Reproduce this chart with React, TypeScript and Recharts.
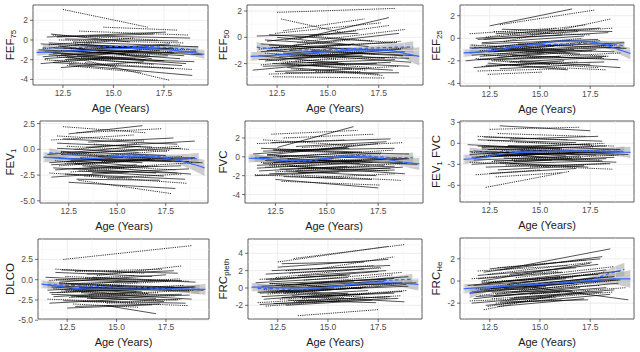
import React from 'react';
import { ComposedChart, Line, Area, XAxis, YAxis, CartesianGrid, ReferenceLine, ReferenceArea } from 'recharts';

type Seg = [number, number, number, number];

const XDOM: [number, number] = [11.02, 19.68];
const X_TICKS = [12.5, 15, 17.5];
const X_MINOR = [11.25, 13.75, 16.25, 18.75];
const SMOOTH_X = [11.2, 12, 13, 14, 15, 16, 17, 18, 19, 19.5];
const DASH_X = [11.5, 12.5, 13.5, 14.5, 15.5, 16.5, 17.5, 18.5, 19.2];

// ---------- FEF75 ----------
const solidFEF75: Seg[] = [
  [11.4,-0.4,16.8,-0.9],[11.8,-1.5,17.5,-2.1],[12.0,-2.3,18.0,-2.9],[11.3,-1.0,15.6,-1.4],
  [12.2,0.3,17.0,0.6],[12.5,-0.8,18.5,-1.6],[11.6,-1.9,16.2,-1.2],[12.8,-2.5,18.9,-3.6],
  [13.0,-0.2,19.2,-0.7],[12.1,-1.2,17.8,-0.4],[11.9,0.6,15.8,-0.2],[13.2,-1.6,18.6,-2.4],
  [12.4,-2.8,16.5,-2.2],[12.6,0.1,18.2,-0.1],[13.5,-1.0,19.4,-1.5],[11.4,-2.4,15.0,-1.8],
  [12.3,-0.6,16.9,-1.9],[13.8,0.4,18.8,0.2],[12.0,-1.4,17.3,-1.1],[14.0,-2.0,18.4,-2.6],
  [12.7,-1.8,19.0,-2.2],[11.7,0.3,17.6,0.8],
  [11.5,-1.7,16.4,-1.0],[12.0,-0.8,18.0,-1.3],[12.6,-2.0,17.7,-1.6],[13.0,-1.1,18.3,-1.9],
  [11.8,-0.3,15.9,-0.7],[12.4,-1.5,19.1,-1.2],[13.4,-0.5,18.0,-0.9],[11.6,-1.2,16.6,-2.0],
];
const dottedFEF75: Seg[] = [
  [12.5,3.1,16.7,1.3],[12.6,-1.6,17.8,-4.1],[11.8,-0.5,16.0,0.2],[12.2,-1.7,17.0,-2.5],
  [12.9,-0.9,18.3,-0.5],[11.6,-2.0,15.2,-2.7],[13.3,0.9,18.7,0.5],[12.4,-1.1,16.8,-1.6],
  [11.5,-0.9,14.8,-0.1],[13.6,-2.3,18.9,-3.0],[12.0,0.5,17.2,0.0],[14.2,-1.3,18.0,-0.8],
  [12.7,-2.6,16.4,-3.3],[13.1,-0.4,17.9,-1.2],[11.9,-1.3,15.6,-0.6],[12.3,0.0,18.5,-0.3],
  [13.4,-1.8,17.4,-1.4],[14.5,1.3,18.2,1.0],[12.1,-2.1,16.1,-1.9],[13.7,-0.7,19.0,-1.0],
];
const fitFEF75 = [-1.25,-1.2,-1.1,-1.0,-0.9,-0.85,-0.9,-1.05,-1.3,-1.45];
const seFEF75 = [0.35,0.25,0.15,0.12,0.12,0.12,0.15,0.2,0.35,0.45];
const dashFEF75 = [-0.8,-0.8,-0.75,-0.7,-0.65,-0.65,-0.75,-0.9,-1.05];
const dseFEF75 = [0.35,0.2,0.15,0.12,0.12,0.15,0.2,0.3,0.45];

// ---------- FEF50 ----------
const solidFEF50: Seg[] = [
  [11.5,0.1,16.5,0.3],[11.3,-2.5,15.5,-1.9],[12.0,-1.0,17.8,-1.6],[12.3,-2.0,18.2,-2.5],
  [11.7,-0.5,16.0,-0.9],[12.6,-1.5,18.8,-1.1],[13.0,-2.3,17.5,-2.8],[12.1,0.2,17.2,-0.3],
  [11.9,-1.8,16.8,-1.2],[13.3,-0.6,18.5,0.3],[12.4,-2.6,16.2,-2.4],[12.8,-1.2,19.1,-1.9],
  [13.6,-0.1,18.0,1.5],[11.6,-1.4,15.8,-2.0],[12.2,-0.8,18.4,-0.4],[14.0,-1.9,19.0,-2.2],
  [12.5,0.0,17.0,-0.7],[11.8,-2.2,17.4,-2.0],[13.1,-1.6,18.6,-0.9],[12.9,-2.7,18.5,-2.7],
  [12.0,-0.3,16.4,0.5],[14.2,-1.0,19.3,-1.4],
  [11.6,-1.7,16.7,-1.4],[12.1,-0.6,17.9,-1.0],[12.7,-2.0,18.3,-1.7],[13.1,-1.0,18.7,-1.4],
  [11.9,-0.2,16.1,-0.6],[12.4,-1.3,19.0,-1.6],[13.5,-2.2,18.1,-1.9],[11.7,-1.1,16.3,-0.5],
];
const dottedFEF50: Seg[] = [
  [12.5,1.9,18.3,2.2],[12.7,1.4,15.6,0.4],[13.5,-0.4,18.8,0.6],[12.3,-3.0,17.8,-3.1],
  [11.6,-0.9,16.1,-0.2],[12.0,-1.7,17.1,-2.3],[12.9,-0.2,18.0,0.9],[13.2,-2.4,17.7,-2.9],
  [11.9,-1.2,15.4,-1.6],[12.4,0.3,17.6,1.1],[13.8,-1.4,18.9,-0.8],[12.1,-2.8,16.6,-2.6],
  [12.6,-0.7,17.3,-1.3],[13.4,-1.8,18.4,-1.5],[11.7,-2.1,15.9,-1.5],[14.1,0.1,18.2,-0.4],
  [12.2,-1.0,18.6,-0.3],[13.0,-2.0,16.9,-2.5],[12.8,0.5,16.8,1.4],[14.4,-2.6,18.5,-2.2],
];
const fitFEF50 = [-1.45,-1.4,-1.3,-1.2,-1.1,-1.0,-0.95,-1.0,-1.3,-1.45];
const seFEF50 = [0.35,0.25,0.15,0.12,0.12,0.12,0.15,0.25,0.5,0.7];
const dashFEF50 = [-0.75,-0.9,-0.95,-0.95,-0.9,-0.85,-0.8,-0.75,-0.75];
const dseFEF50 = [0.4,0.2,0.15,0.12,0.12,0.15,0.2,0.3,0.45];

// ---------- FEF25 ----------
const solidFEF25: Seg[] = [
  [12.5,1.1,16.6,2.6],[11.3,-2.0,15.2,-1.3],[11.6,-0.9,16.5,-0.2],[12.0,-1.6,17.8,-1.0],
  [12.3,-2.4,18.2,-2.1],[11.8,0.0,16.9,0.6],[12.7,-1.2,18.6,-0.6],[13.0,-2.7,17.5,-2.3],
  [12.1,-0.4,17.2,0.2],[11.9,-1.9,16.0,-1.6],[13.3,-0.8,19.2,-0.4],[12.4,-2.2,16.4,-2.8],
  [12.8,0.4,18.0,0.9],[13.6,-1.5,18.9,-1.9],[11.5,-1.3,15.7,-0.7],[12.2,-0.1,18.4,0.5],
  [14.0,-2.0,19.0,-2.6],[12.6,-1.0,17.0,-1.4],[11.7,-2.6,16.2,-2.0],[13.1,0.8,18.6,0.6],
  [13.9,-0.5,19.3,-0.9],[12.9,-1.7,17.6,-1.1],
  [11.6,-1.5,16.7,-1.0],[12.1,-0.5,17.9,-0.1],[12.7,-1.9,18.3,-1.6],[13.1,-0.9,18.7,-1.2],
  [11.9,-0.1,16.1,0.3],[12.4,-1.2,19.0,-0.8],[13.5,-2.1,18.1,-1.7],[11.7,-0.8,16.3,-1.2],
];
const dottedFEF25: Seg[] = [
  [13.0,1.2,17.7,2.5],[12.4,-3.2,15.1,-3.0],[11.5,0.4,15.8,0.9],[12.0,-1.1,16.7,-0.6],
  [12.6,-2.0,17.9,-2.6],[13.2,-0.3,18.5,1.7],[11.8,-1.8,15.5,-2.3],[12.3,0.1,17.3,1.2],
  [13.5,-2.4,18.3,-2.8],[12.9,-1.4,18.8,-0.6],[11.6,-0.6,16.1,-1.0],[12.1,-2.5,16.9,-2.1],
  [14.1,-0.9,18.0,-0.2],[12.7,0.6,17.5,0.3],[13.7,-1.8,19.0,-1.3],[12.2,-1.5,18.2,-1.8],
  [13.4,0.3,18.6,0.9],[11.9,-2.9,16.3,-2.7],[14.3,-1.2,18.4,-1.6],[12.5,-0.8,17.1,0.0],
];
const fitFEF25 = [-1.3,-1.2,-1.0,-0.7,-0.45,-0.25,-0.25,-0.45,-1.05,-1.35];
const seFEF25 = [0.35,0.25,0.15,0.12,0.12,0.12,0.15,0.25,0.4,0.5];
const dashFEF25 = [-0.85,-0.85,-0.75,-0.6,-0.55,-0.5,-0.45,-0.55,-0.65];
const dseFEF25 = [0.35,0.2,0.15,0.12,0.12,0.15,0.2,0.3,0.4];

// ---------- FEV1 ----------
const solidFEV1: Seg[] = [
  [12.5,1.5,16.3,2.3],[12.5,-3.2,18.0,-3.8],[11.4,-0.5,16.2,0.3],[11.7,-1.8,17.0,-2.3],
  [12.0,-0.9,17.8,-1.2],[12.3,-2.4,18.5,-2.9],[11.9,0.6,16.8,0.2],[12.8,-1.4,18.9,-0.9],
  [13.0,-2.1,17.4,-2.6],[12.1,-0.2,17.5,-0.6],[11.6,-2.7,15.6,-2.2],[13.4,0.2,19.0,0.8],
  [12.6,-1.1,16.6,-1.7],[13.7,-2.3,18.7,-1.9],[11.5,-1.3,15.3,-0.8],[12.2,1.0,18.1,0.5],
  [14.0,-0.7,19.4,-1.3],[12.9,-2.9,17.2,-3.0],[12.4,-0.4,18.3,0.1],[13.2,-1.6,18.8,-2.4],
  [11.8,-2.0,16.0,-1.5],[13.5,0.7,17.9,1.1],
  [11.6,-1.5,16.7,-1.0],[12.1,-0.5,17.9,-0.9],[12.7,-1.9,18.3,-1.6],[13.1,-0.9,18.7,-1.2],
  [11.9,0.1,16.1,-0.3],[12.4,-1.2,19.0,-0.8],[13.5,-2.1,18.1,-2.3],[11.7,-0.8,16.3,-1.3],
];
const dottedFEV1: Seg[] = [
  [12.2,2.2,16.5,1.6],[13.0,-3.0,17.8,-4.3],[11.6,0.9,15.9,1.4],[12.0,-1.6,16.9,-1.0],
  [12.7,-0.5,18.2,0.3],[13.3,-2.6,18.6,-3.3],[11.8,-1.1,15.4,-1.8],[12.4,0.3,17.6,-0.2],
  [13.6,-1.9,18.9,-1.3],[12.9,1.6,17.3,2.0],[11.5,-2.3,15.8,-2.8],[12.1,-0.3,16.7,-0.9],
  [14.2,-1.2,18.4,-0.7],[12.6,-2.2,17.1,-1.6],[13.8,0.5,18.7,0.0],[12.3,-1.4,18.0,-2.0],
  [13.1,-0.8,17.7,-0.1],[11.9,1.3,16.4,0.8],[14.5,-2.8,18.3,-2.4],[12.8,0.0,16.1,0.6],
];
const fitFEV1 = [-0.75,-0.85,-0.95,-0.85,-0.7,-0.65,-0.75,-1.0,-1.5,-1.8];
const seFEV1 = [0.5,0.35,0.2,0.17,0.17,0.17,0.2,0.35,0.6,0.8];
const dashFEV1 = [-0.35,-0.45,-0.6,-0.6,-0.55,-0.6,-0.75,-0.85,-0.9];
const dseFEV1 = [0.45,0.25,0.2,0.17,0.17,0.2,0.25,0.4,0.55];

// ---------- FVC ----------
const solidFVC: Seg[] = [
  [12.6,1.0,16.3,3.2],[12.5,-2.4,17.5,-3.3],[11.4,0.3,16.0,1.0],[11.6,-1.2,17.2,-0.6],
  [12.0,-0.4,17.8,-0.9],[12.2,-1.8,18.3,-1.4],[11.8,0.9,16.7,0.5],[12.8,-0.8,18.9,-0.2],
  [13.0,-1.5,17.4,-2.0],[12.1,0.2,17.5,1.4],[11.5,-2.0,15.6,-1.6],[13.3,0.6,19.0,0.3],
  [12.7,-0.1,16.6,-0.7],[13.6,-1.7,18.7,-1.1],[11.9,-0.7,15.3,-0.2],[12.3,1.5,18.1,1.9],
  [14.0,-0.3,19.4,-0.8],[12.9,-2.1,17.2,-2.4],[12.4,0.7,18.3,0.9],[13.2,-1.0,18.8,-1.8],
  [11.7,-1.5,16.0,-1.0],[13.5,1.1,17.9,1.6],
  [11.6,-0.9,16.7,-0.4],[12.1,0.2,17.9,-0.2],[12.7,-1.3,18.3,-1.0],[13.1,-0.3,18.7,-0.6],
  [11.9,0.6,16.1,0.9],[12.4,-0.6,19.0,-0.2],[13.5,-1.5,18.1,-1.2],[11.7,-0.1,16.3,0.4],
];
const dottedFVC: Seg[] = [
  [12.3,2.4,16.5,2.8],[12.8,-2.6,17.6,-3.0],[11.6,1.4,15.9,1.8],[12.0,-1.1,16.9,-0.5],
  [12.6,0.0,18.2,0.7],[13.3,-1.9,18.6,-2.5],[11.8,-0.6,15.4,-1.3],[12.4,0.8,17.6,0.3],
  [13.6,-1.3,18.9,-0.7],[12.9,2.0,17.3,2.4],[11.5,-1.9,15.8,-2.3],[12.1,0.2,16.7,-0.4],
  [14.2,-0.6,18.4,-0.1],[12.5,-1.6,17.1,-1.0],[13.8,1.0,18.7,1.5],[12.2,-0.9,18.0,-1.5],
  [13.1,-0.2,17.7,0.4],[11.9,1.8,16.4,1.2],[14.5,-2.2,18.3,-1.8],[12.7,0.5,16.1,1.1],
];
const fitFVC = [-0.15,-0.2,-0.35,-0.35,-0.15,0.05,0.0,-0.3,-0.65,-0.75];
const seFVC = [0.45,0.3,0.2,0.17,0.17,0.17,0.2,0.3,0.5,0.65];
const dashFVC = [-0.1,-0.35,-0.45,-0.35,0.0,0.15,0.0,-0.1,-0.1];
const dseFVC = [0.45,0.25,0.2,0.17,0.17,0.2,0.25,0.4,0.55];

// ---------- FEV1/FVC ----------
const solidRatio: Seg[] = [
  [13.0,2.5,17.5,1.8],[11.4,-0.2,16.0,-0.8],[11.7,-2.4,17.0,-1.8],[12.0,-1.2,17.8,-1.7],
  [12.3,-3.4,18.5,-2.9],[11.9,0.5,16.8,0.1],[12.8,-1.8,18.9,-1.2],[13.0,-2.8,17.4,-3.4],
  [12.1,-0.6,17.5,-0.1],[11.6,-3.0,15.6,-2.4],[13.4,-0.3,19.0,-0.9],[12.6,-1.5,16.6,-2.2],
  [13.7,-2.6,18.7,-2.0],[11.5,-1.6,15.3,-1.0],[12.2,0.9,18.1,0.3],[14.0,-1.0,19.4,-1.6],
  [12.9,-3.8,17.2,-3.2],[12.4,-0.9,18.3,-0.4],[13.2,-2.1,18.8,-2.7],[11.8,-2.0,16.0,-1.4],
  [13.5,0.6,17.9,1.0],[12.5,-4.3,16.8,-3.6],
  [11.6,-2.0,16.7,-1.4],[12.1,-0.8,17.9,-1.2],[12.7,-2.5,18.3,-2.2],[13.1,-1.3,18.7,-1.7],
  [11.9,-0.4,16.1,-0.7],[12.4,-1.7,19.0,-1.2],[13.5,-2.9,18.1,-2.5],[11.7,-1.1,16.3,-1.8],
];
const dottedRatio: Seg[] = [
  [12.5,2.0,17.0,2.3],[12.3,-6.3,16.5,-4.0],[11.8,-4.5,15.0,-3.8],[12.0,-1.9,16.9,-1.3],
  [12.7,-0.7,18.2,0.0],[13.3,-3.1,18.6,-3.7],[11.6,-1.3,15.4,-2.0],[12.4,0.4,17.6,-0.3],
  [13.6,-2.3,18.9,-1.7],[12.9,1.4,17.3,1.0],[11.5,-2.7,15.8,-3.2],[12.1,-0.4,16.7,-1.0],
  [14.2,-1.5,18.4,-0.9],[12.6,-2.6,17.1,-2.0],[13.8,0.2,18.7,-0.4],[12.2,-1.7,18.0,-2.4],
  [13.1,-1.0,17.7,-0.5],[11.9,1.0,16.4,0.5],[14.5,-3.4,18.3,-2.9],[12.8,-4.8,16.1,-4.2],
];
const fitRatio = [-2.3,-2.1,-1.6,-1.3,-1.2,-1.15,-1.15,-1.2,-1.25,-1.3];
const seRatio = [0.7,0.45,0.3,0.25,0.25,0.25,0.3,0.4,0.65,0.8];
const dashRatio = [-1.2,-1.2,-1.15,-1.1,-1.1,-1.05,-1.05,-1.1,-1.15];
const dseRatio = [0.6,0.35,0.28,0.25,0.25,0.28,0.35,0.5,0.7];

// ---------- DLCO ----------
const solidDLCO: Seg[] = [
  [14.5,-3.2,17.0,-4.2],[11.4,0.3,16.0,-0.2],[11.7,-1.8,17.0,-2.3],[12.0,-0.8,17.8,-1.2],
  [12.3,-2.6,18.5,-2.9],[11.9,0.9,16.8,0.4],[12.8,-1.4,18.9,-0.9],[13.0,-2.1,17.4,-2.7],
  [12.1,-0.3,17.5,0.6],[11.6,-2.9,15.6,-2.4],[13.4,0.2,19.0,-0.3],[12.6,-1.1,16.6,-1.7],
  [13.7,-2.3,18.7,-1.9],[11.5,-1.3,15.3,-0.8],[12.2,1.2,18.1,0.8],[14.0,-0.7,19.4,-1.3],
  [12.9,-3.3,17.2,-3.0],[12.4,-0.5,18.3,-0.1],[13.2,-1.6,18.8,-2.4],[11.8,-2.1,16.0,-1.5],
  [13.5,0.7,17.9,1.1],[12.5,-3.5,16.8,-3.1],
  [11.6,-1.6,16.7,-1.2],[12.1,-0.5,17.9,-0.9],[12.7,-2.1,18.3,-1.8],[13.1,-1.0,18.7,-1.4],
  [11.9,0.0,16.1,-0.3],[12.4,-1.3,19.0,-0.9],[13.5,-2.3,18.1,-2.5],[11.7,-0.9,16.3,-1.5],
];
const dottedDLCO: Seg[] = [
  [12.3,2.5,18.8,4.2],[14.0,0.5,18.3,1.7],[11.6,-0.1,15.9,0.5],[12.0,-1.6,16.9,-1.0],
  [12.7,-0.6,18.2,0.1],[13.3,-2.7,18.6,-3.2],[11.8,-1.1,15.4,-1.8],[12.4,0.4,17.6,-0.1],
  [13.6,-1.9,18.9,-1.3],[12.9,1.0,17.3,1.3],[11.5,-2.4,15.8,-2.8],[12.1,-0.4,16.7,-0.9],
  [14.2,-1.2,18.4,-0.7],[12.6,-2.2,17.1,-1.6],[13.8,0.3,18.7,-0.2],[12.2,-1.4,18.0,-2.0],
  [13.1,-0.8,17.7,-0.2],[11.9,1.3,16.4,0.8],[14.5,-2.9,18.3,-2.4],[12.8,-3.0,16.1,-3.4],
];
const fitDLCO = [-0.55,-0.8,-1.1,-1.2,-1.2,-1.15,-1.15,-1.15,-1.2,-1.2];
const seDLCO = [0.5,0.35,0.25,0.2,0.2,0.2,0.25,0.35,0.55,0.7];
const dashDLCO = [-0.6,-0.7,-0.8,-0.9,-0.95,-1.0,-1.1,-1.15,-1.2];
const dseDLCO = [0.5,0.3,0.22,0.2,0.2,0.22,0.3,0.45,0.6];

// ---------- FRCpleth ----------
const solidPleth: Seg[] = [
  [12.5,2.4,18.0,3.3],[11.4,0.6,16.0,1.2],[11.7,-1.0,17.0,-0.3],[12.0,0.0,17.8,0.8],
  [12.3,-1.8,18.5,-1.2],[11.9,1.6,16.8,2.2],[12.8,-0.6,18.9,0.4],[13.0,-1.4,17.4,-1.7],
  [12.1,0.9,17.5,1.9],[11.6,-1.9,15.6,-1.5],[13.4,0.4,19.0,1.3],[12.6,-0.3,16.6,-0.8],
  [13.7,-1.2,18.7,-0.4],[11.5,-0.5,15.3,0.0],[12.2,2.0,18.1,2.6],[14.0,0.1,19.4,0.6],
  [12.9,-2.0,17.2,-1.4],[12.4,0.3,18.3,1.1],[13.2,-0.9,18.8,-1.6],[11.8,-1.3,16.0,-0.6],
  [13.5,1.4,17.9,2.0],[12.7,2.8,16.8,3.0],
  [11.6,-0.6,16.7,0.0],[12.1,0.5,17.9,1.0],[12.7,-1.1,18.3,-0.6],[13.1,0.0,18.7,0.6],
  [11.9,1.0,16.1,1.5],[12.4,-0.4,19.0,0.2],[13.5,-1.5,18.1,-1.0],[11.7,0.2,16.3,0.7],
];
const dottedPleth: Seg[] = [
  [12.5,3.0,18.0,4.8],[13.3,3.4,18.8,5.0],[13.5,-3.2,17.5,-2.5],[11.6,1.0,15.9,1.5],
  [12.0,-0.7,16.9,0.1],[12.7,0.2,18.2,1.5],[13.3,-1.6,18.6,-0.9],[11.8,-0.2,15.4,-0.9],
  [12.4,1.2,17.6,2.4],[13.6,-1.1,18.9,-0.3],[12.9,2.0,17.3,2.6],[11.5,-1.7,15.8,-1.1],
  [12.1,0.5,16.7,0.0],[14.2,-0.4,18.4,0.5],[12.6,-1.3,17.1,-0.6],[13.8,0.9,18.7,1.8],
  [12.2,-0.5,18.0,-1.2],[13.1,1.7,17.7,2.3],[11.9,-2.1,16.4,-1.3],[14.5,2.2,18.3,3.6],
];
const fitPleth = [0.1,0.1,0.0,0.0,0.1,0.35,0.55,0.6,0.5,0.4];
const sePleth = [0.5,0.35,0.25,0.2,0.2,0.2,0.25,0.35,0.55,0.7];
const dashPleth = [-0.05,-0.1,-0.2,-0.05,0.2,0.5,0.8,0.95,1.0];
const dsePleth = [0.5,0.3,0.22,0.2,0.2,0.22,0.3,0.45,0.6];

// ---------- FRCHe ----------
const solidHe: Seg[] = [
  [13.0,1.0,18.5,2.9],[11.4,-0.4,16.0,0.4],[11.7,-1.6,17.0,-0.6],[12.0,-0.8,17.8,0.3],
  [12.3,-2.2,18.5,-1.2],[11.9,0.5,16.8,1.2],[12.8,-1.2,18.9,-0.2],[13.0,-1.9,17.4,-1.7],
  [12.1,0.0,17.5,1.6],[11.6,-2.0,15.6,-1.4],[13.4,-0.3,19.0,0.9],[12.6,-1.0,16.6,-0.9],
  [13.7,-1.5,18.7,-0.8],[11.5,-1.1,15.3,-0.5],[12.2,0.8,18.1,2.2],[14.0,-0.4,19.4,-1.7],
  [12.9,-2.3,17.2,-1.6],[12.4,-0.2,18.3,1.0],[13.2,-0.7,18.8,0.2],[11.8,-1.4,16.0,-1.0],
  [13.5,0.6,17.9,1.5],[12.5,1.1,18.0,2.0],
  [11.6,-1.0,16.7,-0.2],[12.1,-0.2,17.9,0.6],[12.7,-1.4,18.3,-0.6],[13.1,-0.5,18.7,0.4],
  [11.9,0.2,16.1,0.8],[12.4,-0.7,19.0,0.1],[13.5,-1.6,18.1,-1.0],[11.7,-0.4,16.3,0.2],
];
const dottedHe: Seg[] = [
  [12.2,-2.6,16.0,-1.2],[12.4,-2.3,17.5,-0.9],[11.6,0.2,15.9,0.9],[12.0,-1.3,16.9,-0.3],
  [12.7,-0.5,18.2,0.8],[13.3,-1.8,18.6,-1.0],[11.8,-0.7,15.4,-0.8],[12.4,0.6,17.6,1.7],
  [13.6,-1.0,18.9,0.1],[12.9,1.2,17.3,1.9],[11.5,-1.8,15.8,-1.5],[12.1,-0.1,16.7,0.3],
  [14.2,-0.6,18.4,0.4],[12.6,-1.6,17.1,-1.1],[13.8,0.3,18.7,1.3],[12.2,-0.9,18.0,-0.4],
  [13.1,0.0,17.7,0.6],[11.9,0.9,16.4,1.4],[14.5,-1.2,19.3,-0.6],[12.8,-2.0,16.1,-1.7],
];
const fitHe = [-0.7,-0.6,-0.5,-0.4,-0.3,-0.2,-0.05,0.1,0.2,0.2];
const seHe = [0.45,0.3,0.22,0.18,0.18,0.18,0.22,0.35,0.6,0.8];
const dashHe = [-1.1,-0.65,-0.4,-0.25,-0.2,-0.1,0.1,0.7,1.05];
const dseHe = [0.45,0.28,0.2,0.18,0.18,0.2,0.28,0.45,0.6];

interface PanelDef {
  main: string; sub: string; after?: string;
  yDom: [number, number]; yTicks: number[]; yMinor: number[]; dec: boolean;
  solid: Seg[]; dotted: Seg[]; fit: number[]; se: number[]; dash: number[]; dse: number[];
}

const PANELS: PanelDef[] = [
  { main: 'FEF', sub: '75', yDom: [-4.57, 3.55], yTicks: [-4, -2, 0, 2], yMinor: [-3, -1, 1, 3], dec: false,
    solid: solidFEF75, dotted: dottedFEF75, fit: fitFEF75, se: seFEF75, dash: dashFEF75, dse: dseFEF75 },
  { main: 'FEF', sub: '50', yDom: [-3.63, 2.46], yTicks: [-2, 0, 2], yMinor: [-3, -1, 1], dec: false,
    solid: solidFEF50, dotted: dottedFEF50, fit: fitFEF50, se: seFEF50, dash: dashFEF50, dse: dseFEF50 },
  { main: 'FEF', sub: '25', yDom: [-4.23, 2.95], yTicks: [-4, -2, 0, 2], yMinor: [-3, -1, 1], dec: false,
    solid: solidFEF25, dotted: dottedFEF25, fit: fitFEF25, se: seFEF25, dash: dashFEF25, dse: dseFEF25 },
  { main: 'FEV', sub: '1', yDom: [-5.21, 2.75], yTicks: [-5, -2.5, 0, 2.5], yMinor: [-3.75, -1.25, 1.25], dec: true,
    solid: solidFEV1, dotted: dottedFEV1, fit: fitFEV1, se: seFEV1, dash: dashFEV1, dse: dseFEV1 },
  { main: 'FVC', sub: '', yDom: [-4.9, 3.8], yTicks: [-4, -2, 0, 2], yMinor: [-3, -1, 1, 3], dec: false,
    solid: solidFVC, dotted: dottedFVC, fit: fitFVC, se: seFVC, dash: dashFVC, dse: dseFVC },
  { main: 'FEV', sub: '1', after: ' FVC', yDom: [-8.39, 3.19], yTicks: [-6, -3, 0, 3], yMinor: [-7.5, -4.5, -1.5, 1.5], dec: false,
    solid: solidRatio, dotted: dottedRatio, fit: fitRatio, se: seRatio, dash: dashRatio, dse: dseRatio },
  { main: 'DLCO', sub: '', yDom: [-4.85, 5.02], yTicks: [-5, -2.5, 0, 2.5], yMinor: [-3.75, -1.25, 1.25, 3.75], dec: true,
    solid: solidDLCO, dotted: dottedDLCO, fit: fitDLCO, se: seDLCO, dash: dashDLCO, dse: dseDLCO },
  { main: 'FRC', sub: 'pleth', yDom: [-3.58, 5.65], yTicks: [-2, 0, 2, 4], yMinor: [-3, -1, 1, 3, 5], dec: false,
    solid: solidPleth, dotted: dottedPleth, fit: fitPleth, se: sePleth, dash: dashPleth, dse: dsePleth },
  { main: 'FRC', sub: 'He', yDom: [-3.43, 3.88], yTicks: [-2, 0, 2], yMinor: [-3, -1, 1, 3], dec: false,
    solid: solidHe, dotted: dottedHe, fit: fitHe, se: seHe, dash: dashHe, dse: dseHe },
];

const LAYOUT = [
  { col: 0, l: 33, r: 208, t: 5, b: 85 },
  { col: 213, l: 247, r: 423, t: 5, b: 85 },
  { col: 426, l: 460, r: 634, t: 5, b: 86 },
  { col: 0, l: 40, r: 208, t: 121, b: 203 },
  { col: 213, l: 245, r: 423, t: 121, b: 203 },
  { col: 426, l: 460, r: 634, t: 121, b: 202 },
  { col: 0, l: 38, r: 209, t: 239, b: 319 },
  { col: 213, l: 248, r: 422, t: 239, b: 319 },
  { col: 426, l: 460, r: 634, t: 238, b: 319 },
];

const XH = 34;
const MT = 5;
const FONT = '"Liberation Sans", Arial, Helvetica, sans-serif';
const BLUE = '#3366FF';

function Panel({ p, lay }: { p: PanelDef; lay: typeof LAYOUT[number] }) {
  const YW = lay.l - lay.col;
  const W = lay.r - lay.col + 1;
  const ph = lay.b - lay.t;
  const H = ph + MT + XH;
  const cx = YW + (lay.r - lay.l) / 2;
  const cy = MT + ph / 2;
  const fitData = SMOOTH_X.map((x, i) => ({ x, y: p.fit[i], band: [p.fit[i] - p.se[i], p.fit[i] + p.se[i]] }));
  const dashData = DASH_X.map((x, i) => ({ x, y: p.dash[i], band: [p.dash[i] - p.dse[i], p.dash[i] + p.dse[i]] }));
  const fmt = (v: number) => (p.dec ? v.toFixed(1) : String(v));

  const yLabel = () => (
    <text x={10} y={cy} transform={`rotate(-90, 10, ${cy})`} textAnchor="middle" dominantBaseline="central"
      fontSize={11.5} fill="#1a1a1a" fontFamily={FONT}>
      {p.main}
      {p.sub ? <tspan fontSize={8} dy={3}>{p.sub}</tspan> : null}
      {p.after ? <tspan fontSize={11.5} dy={-3}>{p.after}</tspan> : null}
    </text>
  );
  const xLabel = () => (
    <text x={cx} y={MT + ph + 23} textAnchor="middle" dominantBaseline="central" fontSize={11} fill="#1a1a1a" fontFamily={FONT}>
      Age (Years)
    </text>
  );

  return (
    <div style={{ position: 'absolute', left: lay.col, top: lay.t - MT }}>
      <ComposedChart width={W} height={H} margin={{ top: MT, right: 1, left: 0, bottom: 0 }}>
        <CartesianGrid stroke="#EBEBEB" strokeWidth={0.9} />
        {X_MINOR.map((v) => (
          <ReferenceLine key={'xm' + v} x={v} stroke="#F2F2F2" strokeWidth={0.5} />
        ))}
        {p.yMinor.map((v) => (
          <ReferenceLine key={'ym' + v} y={v} stroke="#F2F2F2" strokeWidth={0.5} />
        ))}
        <XAxis type="number" dataKey="x" domain={XDOM} ticks={X_TICKS} allowDataOverflow interval={0}
          tickFormatter={(v: number) => v.toFixed(1)} tick={{ fontSize: 8.5, fill: '#4D4D4D', fontFamily: FONT }}
          tickLine={{ stroke: '#333', strokeWidth: 0.7 }} tickSize={3} tickMargin={2} axisLine={false} height={XH}
          label={{ content: xLabel }} />
        <YAxis type="number" domain={p.yDom} ticks={p.yTicks} allowDataOverflow interval={0} width={YW}
          tickFormatter={fmt} tick={{ fontSize: 8.5, fill: '#4D4D4D', fontFamily: FONT }}
          tickLine={{ stroke: '#333', strokeWidth: 0.7 }} tickSize={3} tickMargin={2} axisLine={false}
          label={{ content: yLabel }} />
        {p.dotted.map((s, i) => (
          <Line key={'d' + i} data={[{ x: s[0], y: s[1] }, { x: s[2], y: s[3] }]} dataKey="y" type="linear"
            stroke="#000" strokeOpacity={0.8} strokeWidth={1.0} strokeDasharray="1.2 1" dot={false} activeDot={false}
            isAnimationActive={false} />
        ))}
        {p.solid.map((s, i) => (
          <Line key={'s' + i} data={[{ x: s[0], y: s[1] }, { x: s[2], y: s[3] }]} dataKey="y" type="linear"
            stroke="#000" strokeOpacity={0.75} strokeWidth={0.9} dot={false} activeDot={false}
            isAnimationActive={false} />
        ))}
        <Area data={fitData} dataKey="band" type="monotone" fill="#999999" fillOpacity={0.5} stroke="none"
          dot={false} activeDot={false} isAnimationActive={false} />
        <Area data={dashData} dataKey="band" type="monotone" fill="#999999" fillOpacity={0.5} stroke="none"
          dot={false} activeDot={false} isAnimationActive={false} />
        <Line data={fitData} dataKey="y" type="monotone" stroke={BLUE} strokeWidth={1.2} dot={false}
          activeDot={false} isAnimationActive={false} />
        <Line data={dashData} dataKey="y" type="monotone" stroke={BLUE} strokeWidth={1.2} strokeDasharray="3.5 2.5"
          dot={false} activeDot={false} isAnimationActive={false} />
        <ReferenceArea x1={XDOM[0]} x2={XDOM[1]} y1={p.yDom[0]} y2={p.yDom[1]} fill="none" fillOpacity={0}
          stroke="#555" strokeWidth={0.9} ifOverflow="visible" />
      </ComposedChart>
    </div>
  );
}

export default function App() {
  return (
    <div style={{ position: 'absolute', left: 0, top: 0, width: 640, height: 352, background: '#fff', fontFamily: FONT }}>
      {PANELS.map((p, i) => (
        <Panel key={i} p={p} lay={LAYOUT[i]} />
      ))}
    </div>
  );
}
